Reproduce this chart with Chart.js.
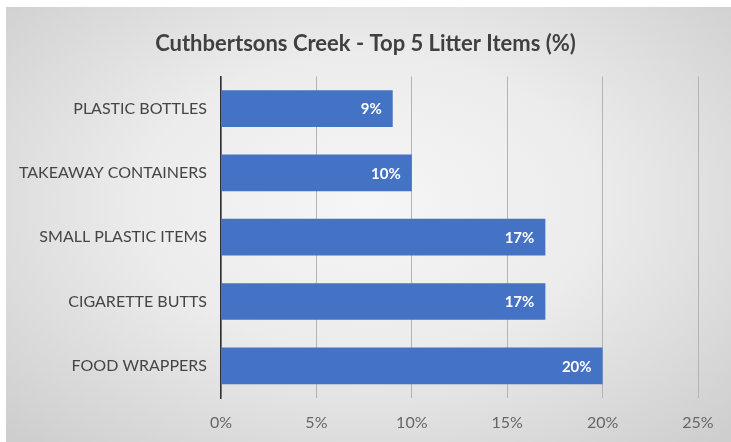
<!DOCTYPE html>
<html>
<head>
<meta charset="utf-8">
<script src="https://cdn.jsdelivr.net/npm/chart.js@4.4.1/dist/chart.umd.min.js"></script>
<style>
    html, body { margin: 0; padding: 0; background: #fff; }
    #wrap {
        position: absolute; left: 6px; top: 7px; width: 725px; height: 435px;
        background: radial-gradient(ellipse 70% 75% at 50% 45%, #f6f6f6 0%, #ececec 45%, #d6d6d6 85%, #cecece 100%);
    }
    canvas { position: absolute; left: -6px; top: -7px; }
</style>
</head>
<body>
<div id="wrap"><canvas id="litterChart" width="731" height="442"></canvas></div>
<script>
// chart data
const categories = ['PLASTIC BOTTLES', 'TAKEAWAY CONTAINERS', 'SMALL PLASTIC ITEMS', 'CIGARETTE BUTTS', 'FOOD WRAPPERS'];
const percentValues = [9, 10, 17, 17, 20];
const tickValues = [0, 5, 10, 15, 20, 25];

// draws the value inside the end of each bar
const barValueLabels = {
    id: 'barValueLabels',
    afterDatasetsDraw(chart) {
        const ctx = chart.ctx;
        const meta = chart.getDatasetMeta(0);
        ctx.save();
        ctx.font = 'bold 15px Lato, "Open Sans", sans-serif';
        ctx.fillStyle = '#ffffff';
        ctx.textAlign = 'right';
        ctx.textBaseline = 'middle';
        meta.data.forEach((bar, i) => {
            ctx.fillText(percentValues[i] + '%', bar.x - 11, bar.y + 1);
        });
        ctx.restore();
    }
};

new Chart(document.getElementById('litterChart'), {
    type: 'bar',
    data: {
        labels: categories,
        datasets: [{
            data: percentValues,
            backgroundColor: '#4472C4',
            categoryPercentage: 0.57,
            barPercentage: 1
        }]
    },
    options: {
        indexAxis: 'y',
        responsive: false,
        animation: false,
        layout: { padding: { left: 0, right: 0, top: 31, bottom: 0 } },
        plugins: {
            legend: { display: false },
            tooltip: { enabled: false },
            title: {
                display: true,
                text: 'Cuthbertsons Creek - Top 5 Litter Items (%)',
                color: '#404040',
                font: { family: 'Lato, "Open Sans", sans-serif', size: 22, weight: 'bold' },
                padding: { top: 0, bottom: 19 }
            }
        },
        scales: {
            x: {
                min: 0,
                max: 25,
                afterBuildTicks: s => { s.ticks = tickValues.map(v => ({ value: v })); },
                afterFit: s => { s.height = 44; s.paddingRight = 33; },
                grid: { color: '#b4b4b4', lineWidth: 1, drawTicks: false },
                border: { display: false },
                ticks: {
                    padding: 15,
                    color: '#666666',
                    font: { family: 'Lato, "Open Sans", sans-serif', size: 16 },
                    callback: v => v + '%'
                }
            },
            y: {
                afterFit: s => { s.width = 221; },
                grid: { display: false, drawTicks: false },
                border: { display: true, color: '#303030', width: 1.5 },
                ticks: {
                    padding: 14,
                    color: '#454545',
                    font: { family: 'Lato, "Open Sans", sans-serif', size: 16 }
                }
            }
        }
    },
    plugins: [barValueLabels]
});
</script>
</body>
</html>
